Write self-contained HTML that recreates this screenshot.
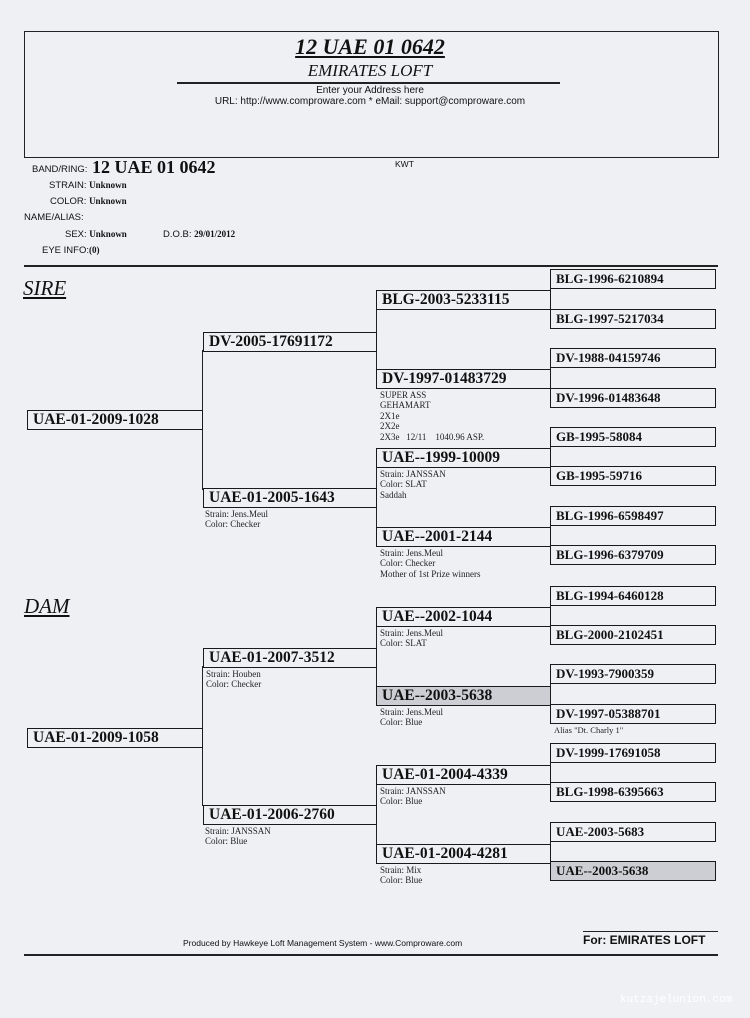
<!DOCTYPE html>
<html><head><meta charset="utf-8"><style>
*{margin:0;padding:0;box-sizing:border-box}
body{width:750px;height:1018px;background:#eff0f4;position:relative;overflow:hidden;font-family:"Liberation Serif",serif;color:#111}
.a{position:absolute;white-space:nowrap}
.b{position:absolute;border:1.8px solid #1a1a1a;font-weight:bold;padding-left:5px;white-space:nowrap;overflow:hidden}
.g1,.g2,.g3{height:20px;font-size:15.5px;line-height:17px}
.g1{left:27px;width:176px}
.g2{left:203px;width:174px}
.g3{left:376px;width:175px}
.g4{left:550px;width:166px;height:20px;font-size:13px;line-height:17px}
.gr{background:#cdced3}
.v{position:absolute;width:1.4px;background:#222}
.s{position:absolute;font-size:9px;line-height:10.4px;white-space:nowrap;color:#222}
.sans{font-family:"Liberation Sans",sans-serif}
.h{position:absolute;height:2px;background:#222}
</style></head><body>
<div style="position:absolute;left:24px;top:31px;width:695px;height:127px;border:1.6px solid #222"></div>
<div class="a" style="left:0;width:740px;text-align:center;top:34px;font-size:22px;font-weight:bold;font-style:italic;text-decoration:underline">12 UAE 01 0642</div>
<div class="a" style="left:0;width:740px;text-align:center;top:61px;font-size:17px;font-style:italic">EMIRATES LOFT</div>
<div class="h" style="left:177px;width:383px;top:82px;height:1.5px"></div>
<div class="a sans" style="left:0;width:740px;text-align:center;top:85px;font-size:10px">Enter your Address here</div>
<div class="a sans" style="left:0;width:740px;text-align:center;top:96px;font-size:10px">URL: http://www.comproware.com * eMail: support@comproware.com</div>

<div class="a sans" style="left:32px;top:164px;font-size:9.5px">BAND/RING:</div>
<div class="a" style="left:92px;top:157px;font-size:18px;font-weight:bold">12 UAE 01 0642</div>
<div class="a sans" style="left:395px;top:159px;font-size:8.5px">KWT</div>
<div class="a sans" style="left:49px;top:180px;font-size:9.5px">STRAIN: <span style="font-family:'Liberation Serif',serif;font-weight:bold;font-size:9px">Unknown</span></div>
<div class="a sans" style="left:50px;top:196px;font-size:9.5px">COLOR: <span style="font-family:'Liberation Serif',serif;font-weight:bold;font-size:9px">Unknown</span></div>
<div class="a sans" style="left:24px;top:212px;font-size:9.5px">NAME/ALIAS:</div>
<div class="a sans" style="left:65px;top:229px;font-size:9.5px">SEX: <span style="font-family:'Liberation Serif',serif;font-weight:bold;font-size:9px">Unknown</span></div>
<div class="a sans" style="left:163px;top:229px;font-size:9.5px">D.O.B: <span style="font-family:'Liberation Serif',serif;font-weight:bold;font-size:9px">29/01/2012</span></div>
<div class="a sans" style="left:42px;top:245px;font-size:9.5px">EYE INFO:<span style="font-family:'Liberation Serif',serif;font-weight:bold;font-size:9px">(0)</span></div>
<div class="h" style="left:24px;width:694px;top:265px"></div>

<div class="a" style="left:23px;top:276px;font-size:21px;font-style:italic;text-decoration:underline">SIRE</div>
<div class="a" style="left:24px;top:594px;font-size:21px;font-style:italic;text-decoration:underline">DAM</div>

<div class="v" style="left:202px;top:350px;height:140px"></div>
<div class="v" style="left:202px;top:666px;height:140px"></div>
<div class="v" style="left:376px;top:308px;height:63px"></div>
<div class="v" style="left:376px;top:466px;height:62px"></div>
<div class="v" style="left:376px;top:625px;height:62px"></div>
<div class="v" style="left:376px;top:783px;height:62px"></div>
<div class="v" style="left:550px;top:287px;height:23px"></div>
<div class="v" style="left:550px;top:366px;height:23px"></div>
<div class="v" style="left:550px;top:445px;height:23px"></div>
<div class="v" style="left:550px;top:524px;height:23px"></div>
<div class="v" style="left:550px;top:604px;height:23px"></div>
<div class="v" style="left:550px;top:683px;height:23px"></div>
<div class="v" style="left:550px;top:761px;height:23px"></div>
<div class="v" style="left:550px;top:840px;height:23px"></div>

<div class="b g1" style="top:410px">UAE-01-2009-1028</div>
<div class="b g1" style="top:728px">UAE-01-2009-1058</div>
<div class="b g2" style="top:332px">DV-2005-17691172</div>
<div class="b g2" style="top:488px">UAE-01-2005-1643</div>
<div class="s" style="left:205px;top:509px">Strain: Jens.Meul<br>Color: Checker</div>
<div class="b g2" style="top:648px">UAE-01-2007-3512</div>
<div class="s" style="left:206px;top:669px">Strain: Houben<br>Color: Checker</div>
<div class="b g2" style="top:805px">UAE-01-2006-2760</div>
<div class="s" style="left:205px;top:826px">Strain: JANSSAN<br>Color: Blue</div>
<div class="b g3" style="top:290px">BLG-2003-5233115</div>
<div class="b g3" style="top:369px">DV-1997-01483729</div>
<div class="s" style="left:380px;top:390px">SUPER ASS<br>GEHAMART<br>2X1e<br>2X2e<br>2X3e &nbsp; 12/11 &nbsp;&nbsp; 1040.96 ASP.</div>
<div class="b g3" style="top:448px">UAE--1999-10009</div>
<div class="s" style="left:380px;top:469px">Strain: JANSSAN<br>Color: SLAT<br>Saddah</div>
<div class="b g3" style="top:527px">UAE--2001-2144</div>
<div class="s" style="left:380px;top:548px">Strain: Jens.Meul<br>Color: Checker<br>Mother of 1st Prize winners</div>
<div class="b g3" style="top:607px">UAE--2002-1044</div>
<div class="s" style="left:380px;top:628px">Strain: Jens.Meul<br>Color: SLAT</div>
<div class="b g3 gr" style="top:686px">UAE--2003-5638</div>
<div class="s" style="left:380px;top:707px">Strain: Jens.Meul<br>Color: Blue</div>
<div class="b g3" style="top:765px">UAE-01-2004-4339</div>
<div class="s" style="left:380px;top:786px">Strain: JANSSAN<br>Color: Blue</div>
<div class="b g3" style="top:844px">UAE-01-2004-4281</div>
<div class="s" style="left:380px;top:865px">Strain: Mix<br>Color: Blue</div>
<div class="b g4" style="top:269px">BLG-1996-6210894</div>
<div class="b g4" style="top:309px">BLG-1997-5217034</div>
<div class="b g4" style="top:348px">DV-1988-04159746</div>
<div class="b g4" style="top:388px">DV-1996-01483648</div>
<div class="b g4" style="top:427px">GB-1995-58084</div>
<div class="b g4" style="top:466px">GB-1995-59716</div>
<div class="b g4" style="top:506px">BLG-1996-6598497</div>
<div class="b g4" style="top:545px">BLG-1996-6379709</div>
<div class="b g4" style="top:586px">BLG-1994-6460128</div>
<div class="b g4" style="top:625px">BLG-2000-2102451</div>
<div class="b g4" style="top:664px">DV-1993-7900359</div>
<div class="b g4" style="top:704px">DV-1997-05388701</div>
<div class="s" style="left:554px;top:725px;font-size:8.5px">Alias "Dt. Charly 1"</div>
<div class="b g4" style="top:743px">DV-1999-17691058</div>
<div class="b g4" style="top:782px">BLG-1998-6395663</div>
<div class="b g4" style="top:822px">UAE-2003-5683</div>
<div class="b g4 gr" style="top:861px">UAE--2003-5638</div>

<div class="a sans" style="left:183px;top:938px;font-size:8.5px">Produced by Hawkeye Loft Management System - www.Comproware.com</div>
<div class="h" style="left:583px;width:135px;top:931px;height:1.3px"></div>
<div class="a sans" style="left:583px;top:933px;font-size:12px;font-weight:bold">For: EMIRATES LOFT</div>
<div class="h" style="left:24px;width:694px;top:954px"></div>
<div class="a" style="left:620px;top:994px;font-family:'Liberation Mono',monospace;font-size:11px;color:#fff">kutzajelunion.com</div>
</body></html>
